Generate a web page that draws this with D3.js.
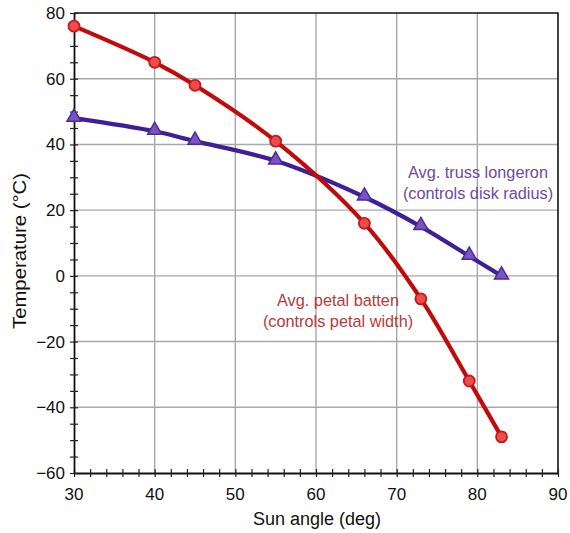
<!DOCTYPE html>
<html>
<head>
<meta charset="utf-8">
<script src="https://cdn.jsdelivr.net/npm/d3@7"></script>
<style>
  html, body { margin: 0; padding: 0; background: #fff; }
  svg { display: block; font-family: "Liberation Sans", Arial, sans-serif; }
</style>
</head>
<body>
<svg id="chart" width="570" height="533"></svg>
<script>
// Sun angle (deg) at each analysis case
const sunAngle = [30, 40, 45, 55, 66, 73, 79, 83];
// Average temperatures (°C)
const petalBatten = [76, 65, 58, 41, 16, -7, -32, -49];
const trussLongeron = [48, 44, 41, 35, 24, 15, 6, 0];
const xTicks = [30, 40, 50, 60, 70, 80, 90];
const yTicks = [-60, -40, -20, 0, 20, 40, 60, 80];
const seriesLabels = {
  batten: ["Avg. petal batten", "(controls petal width)"],
  truss: ["Avg. truss longeron", "(controls disk radius)"]
};

const svg = d3.select("#chart");
const plotL = 74, plotR = 558, plotT = 13, plotB = 473;

const x = d3.scaleLinear().domain([30, 90]).range([plotL, plotR]);
const y = d3.scaleLinear().domain([-60, 80]).range([plotB, plotT]);

// Grid
const grid = svg.append("g").attr("stroke", "#a8a8a8").attr("stroke-width", 1.4);
grid.selectAll("line.v").data(xTicks.slice(1, -1)).join("line").attr("class", "v")
  .attr("x1", d => x(d)).attr("x2", d => x(d)).attr("y1", plotT).attr("y2", plotB);
grid.selectAll("line.h").data(yTicks.slice(1, -1)).join("line").attr("class", "h")
  .attr("y1", d => y(d)).attr("y2", d => y(d)).attr("x1", plotL).attr("x2", plotR);

// Frame: top and right edges
svg.append("path")
  .attr("d", `M${plotL},${plotT}H${plotR}V${plotB}`)
  .attr("fill", "none").attr("stroke", "#111").attr("stroke-width", 1.6);

// Axes with minor ticks crossing the axis line
const minorX = d3.range(30, 90.1, 2);
const minorY = d3.range(-60, 80.1, 5);

const xAxis = svg.append("g").attr("transform", `translate(0,${plotB})`);
xAxis.call(d3.axisBottom(x).tickValues(minorX).tickSize(0).tickFormat(""));
xAxis.select(".domain").attr("stroke", "#111").attr("stroke-width", 1.8);
xAxis.selectAll(".tick line").attr("y1", -4).attr("y2", 4).attr("stroke", "#222").attr("stroke-width", 1.2);
svg.append("g").selectAll("text").data(xTicks).join("text")
  .attr("x", d => x(d)).attr("y", plotB + 27)
  .attr("text-anchor", "middle").attr("font-size", 17).attr("fill", "#111")
  .text(d => d);

const yAxis = svg.append("g").attr("transform", `translate(${plotL},0)`);
yAxis.call(d3.axisLeft(y).tickValues(minorY).tickSize(0).tickFormat(""));
yAxis.select(".domain").attr("stroke", "#111").attr("stroke-width", 1.8);
yAxis.selectAll(".tick line").attr("x1", -4).attr("x2", 4).attr("stroke", "#222").attr("stroke-width", 1.2);
svg.append("g").selectAll("text").data(yTicks).join("text")
  .attr("x", plotL - 9).attr("y", d => y(d) + 6)
  .attr("text-anchor", "end").attr("font-size", 17).attr("fill", "#111")
  .text(d => d < 0 ? "\u2212" + Math.abs(d) : d);

// Axis titles
svg.append("text").attr("x", 317).attr("y", 525)
  .attr("text-anchor", "middle").attr("font-size", 18).attr("fill", "#111")
  .text("Sun angle (deg)");
svg.append("text").attr("transform", `translate(26,${251}) rotate(-90)`)
  .attr("text-anchor", "middle").attr("font-size", 18.5).attr("fill", "#111")
  .attr("textLength", 156).attr("lengthAdjust", "spacingAndGlyphs")
  .text("Temperature (°C)");

// Series
const line = d3.line().curve(d3.curveCatmullRom.alpha(0.5))
  .x(d => x(d[0])).y(d => y(d[1]));

const battenPts = sunAngle.map((a, i) => [a, petalBatten[i]]);
const trussPts = sunAngle.map((a, i) => [a, trussLongeron[i]]);

svg.append("path").datum(trussPts).attr("d", line)
  .attr("fill", "none").attr("stroke", "#3f1f96").attr("stroke-width", 4.2)
  .attr("stroke-linejoin", "round");
svg.append("path").datum(battenPts).attr("d", line)
  .attr("fill", "none").attr("stroke", "#c20a0a").attr("stroke-width", 4.2)
  .attr("stroke-linejoin", "round");

// Triangle markers for the truss longeron
svg.append("g").selectAll("path").data(trussPts).join("path")
  .attr("transform", d => `translate(${x(d[0])},${y(d[1]) - 1})`)
  .attr("d", d3.symbol(d3.symbolTriangle, 85))
  .attr("fill", "#7a55bd").attr("stroke", "#4c2a9e").attr("stroke-width", 1.5);

// Circle markers for the petal batten
svg.append("g").selectAll("circle").data(battenPts).join("circle")
  .attr("cx", d => x(d[0])).attr("cy", d => y(d[1])).attr("r", 5.5)
  .attr("fill", "#ee4b4b").attr("stroke", "#c41a1a").attr("stroke-width", 1.8);

// Series annotations
const tr = svg.append("text").attr("text-anchor", "middle").attr("font-size", 16.3).attr("fill", "#6b4c9e");
seriesLabels.truss.forEach((t, i) =>
  tr.append("tspan").attr("x", 478).attr("y", 178 + i * 21).text(t));
const bt = svg.append("text").attr("text-anchor", "middle").attr("font-size", 16.3).attr("fill", "#b83a3a");
seriesLabels.batten.forEach((t, i) =>
  bt.append("tspan").attr("x", 338).attr("y", 306 + i * 21).text(t));
</script>
</body>
</html>
